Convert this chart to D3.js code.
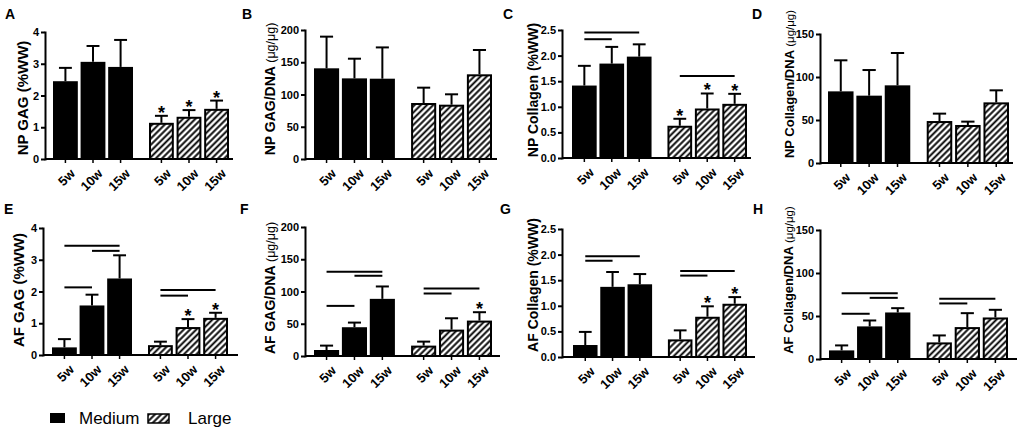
<!DOCTYPE html>
<html><head><meta charset="utf-8">
<script src="https://cdn.jsdelivr.net/npm/d3@7"></script>
<style>
body{margin:0;background:#fff}
svg{display:block;font-family:"Liberation Sans",Arial,sans-serif}
</style>
</head><body>
<svg id="c" width="1024" height="434"></svg>
<script>
// ---------------- DATA ----------------
const timepoints = ['5w','10w','15w'];
const groups = ['Medium','Large'];
const panelLetters = ['A','B','C','D','E','F','G','H'];
const yLabelMain = ['NP GAG (%WW)','NP GAG/DNA ','NP Collagen (%WW)','NP Collagen/DNA ',
                    'AF GAG (%WW)','AF GAG/DNA ','AF Collagen (%WW)','AF Collagen/DNA '];
const yLabelUnit = ['','(μg/μg)','','(μg/μg)','','(μg/μg)','','(μg/μg)'];
const yMax = [4,200,2.5,150,4,200,2.5,150];
const yTickStep = [1,50,0.5,50,1,50,0.5,50];
const yTickDecimals = [0,0,1,0,0,0,1,0];

// means: Medium 5w,10w,15w then Large 5w,10w,15w
const npGagMean        = [2.45, 3.06, 2.90, 1.14, 1.33, 1.58];
const npGagErr         = [0.42, 0.50, 0.85, 0.22, 0.21, 0.26];
const npGagDnaMean     = [140.6, 125.0, 124.5, 86.8, 84.2, 131.3];
const npGagDnaErr      = [49.1, 30.5, 48.5, 23.8, 16.1, 37.7];
const npCollagenMean   = [1.415, 1.844, 1.98, 0.63, 0.967, 1.058];
const npCollagenErr    = [0.385, 0.326, 0.24, 0.136, 0.293, 0.195];
const npColDnaMean     = [83.3, 78.3, 90.3, 48.8, 44.2, 70.5];
const npColDnaErr      = [36.1, 29.8, 37.6, 8.6, 3.9, 14.0];
const afGagMean        = [0.24, 1.56, 2.41, 0.31, 0.88, 1.17];
const afGagErr         = [0.26, 0.34, 0.73, 0.11, 0.25, 0.16];
const afGagDnaMean     = [9.3, 44.6, 88.6, 16.1, 40.9, 54.9];
const afGagDnaErr      = [6.8, 7.2, 19.2, 6.2, 17.6, 13.0];
const afCollagenMean   = [0.234, 1.37, 1.42, 0.344, 0.786, 1.04];
const afCollagenErr    = [0.256, 0.29, 0.20, 0.176, 0.204, 0.13];
const afColDnaMean     = [10.0, 37.9, 54.1, 19.3, 37.1, 48.3];
const afColDnaErr      = [5.8, 6.9, 5.0, 8.1, 16.2, 8.9];

// stars (* vs medium) — bar indices
const npGagStars = [3,4,5];
const npCollagenStars = [3,4,5];
const afGagStars = [4,5];
const afGagDnaStars = [5];
const afCollagenStars = [4,5];

// significance bars: [fromBar, toBar, yValue]
const npCollagenSig = [[0,2,2.45],[0,1,2.32],[3,5,1.60]];
const afGagSig      = [[0,2,3.44],[1,2,3.28],[0,1,2.13],[3,5,2.05],[3,4,1.87]];
const afGagDnaSig   = [[0,2,130.6],[1,2,124.4],[0,1,77.7],[3,5,104.7],[3,4,96.9]];
const afCollagenSig = [[0,2,1.97],[0,1,1.88],[3,5,1.68],[3,4,1.59]];
const afColDnaSig   = [[0,2,76.5],[1,2,71.1],[0,1,52.6],[3,5,70.0],[3,4,64.6]];

const means = [npGagMean,npGagDnaMean,npCollagenMean,npColDnaMean,afGagMean,afGagDnaMean,afCollagenMean,afColDnaMean];
const errs  = [npGagErr,npGagDnaErr,npCollagenErr,npColDnaErr,afGagErr,afGagDnaErr,afCollagenErr,afColDnaErr];
const stars = [npGagStars,[],npCollagenStars,[],afGagStars,afGagDnaStars,afCollagenStars,[]];
const sigs  = [[],[],npCollagenSig,[],afGagSig,afGagDnaSig,afCollagenSig,afColDnaSig];

// ---------------- LAYOUT (styles) ----------------
const layout = [
 {ax:45, ae:233, y0:159, yt:32, b0:53, b1:229, lx:5,   ly:19,  tx:22,  tcy:98,  fs:15},
 {ax:305,ae:497, y0:159, yt:30, b0:314,b1:492, lx:242, ly:19,  tx:269, tcy:89,  fs:14},
 {ax:562,ae:751, y0:158, yt:30, b0:572,b1:747, lx:503, ly:19,  tx:532, tcy:90,  fs:14},
 {ax:820,ae:1013,y0:163, yt:34, b0:828,b1:1009,lx:752, ly:19,  tx:788, tcy:84,  fs:13},
 {ax:43, ae:238, y0:355, yt:228,b0:52, b1:228, lx:4,   ly:214, tx:18,  tcy:290, fs:15},
 {ax:305,ae:500, y0:356, yt:227,b0:314,b1:492, lx:240, ly:214, tx:269, tcy:288, fs:14},
 {ax:562,ae:755, y0:357, yt:229,b0:573,b1:747, lx:500, ly:214, tx:532, tcy:285, fs:14},
 {ax:820,ae:1017,y0:359, yt:230,b0:829,b1:1008,lx:753, ly:214, tx:787, tcy:280, fs:13}
];

const svg = d3.select('#c');
const defs = svg.append('defs');
const P = 4.4;
const pat = defs.append('pattern').attr('id','hatch').attr('patternUnits','userSpaceOnUse')
  .attr('width',P).attr('height',P).attr('patternTransform','rotate(45)');
pat.append('rect').attr('width',P).attr('height',P).attr('fill','#fff');
pat.append('line').attr('x1',P/2).attr('x2',P/2).attr('y1',-1).attr('y2',P+1)
  .attr('stroke','#000').attr('stroke-width',1.9);

function drawPanel(i){
  const L = layout[i];
  const g = svg.append('g');
  const y = d3.scaleLinear().domain([0,yMax[i]]).range([L.y0, L.yt]);
  const gx = d3.scaleBand().domain(groups).range([L.b0, L.b1]).paddingInner(1/6).paddingOuter(0);
  const ix = d3.scaleBand().domain(timepoints).range([0, gx.bandwidth()]).paddingInner(0.1).paddingOuter(0);
  const rows = means[i].map((v,k)=>({k, grp:groups[Math.floor(k/3)], t:timepoints[k%3], v, e:errs[i][k]}));
  const bx = d => gx(d.grp)+ix(d.t);
  const cx = d => bx(d)+ix.bandwidth()/2;
  const bw = ix.bandwidth();

  // error bars (behind bars)
  g.selectAll('.err').data(rows).join('g').each(function(d){
    const s = d3.select(this);
    s.append('line').attr('x1',cx(d)).attr('x2',cx(d)).attr('y1',y(d.v)).attr('y2',y(d.v+d.e))
      .attr('stroke','#000').attr('stroke-width',2);
    s.append('line').attr('x1',cx(d)-bw*0.26).attr('x2',cx(d)+bw*0.26).attr('y1',y(d.v+d.e)).attr('y2',y(d.v+d.e))
      .attr('stroke','#000').attr('stroke-width',2);
  });

  // bars
  g.selectAll('.bar').data(rows).join('rect')
    .attr('x',d=>bx(d)+1).attr('width',bw-2)
    .attr('y',d=>y(d.v)+1).attr('height',d=>y(0)-y(d.v)-1)
    .attr('fill',d=>d.grp==='Medium'?'#000':'url(#hatch)')
    .attr('stroke','#000').attr('stroke-width',2);

  // y axis
  const ticks = d3.range(0, yMax[i]+1e-9, yTickStep[i]);
  const ya = g.append('g').attr('transform',`translate(${L.ax},0)`)
    .call(d3.axisLeft(y).tickValues(ticks).tickSize(4).tickSizeOuter(0).tickPadding(2)
      .tickFormat(d3.format(`.${yTickDecimals[i]}f`)));
  ya.select('.domain').attr('stroke-width',2).attr('stroke-linecap','square');
  ya.selectAll('.tick line').attr('stroke-width',2);
  ya.selectAll('.tick text').attr('font-size',11).attr('font-weight','bold')
    .attr('font-family','"Liberation Sans",Arial,sans-serif').attr('fill','#000');

  // x axis
  g.append('line').attr('x1',L.ax).attr('x2',L.ae).attr('y1',L.y0).attr('y2',L.y0)
    .attr('stroke','#000').attr('stroke-width',2);
  g.selectAll('.xt').data(rows).join('line')
    .attr('x1',cx).attr('x2',cx).attr('y1',L.y0).attr('y2',L.y0+4)
    .attr('stroke','#000').attr('stroke-width',1.5);
  g.selectAll('.xl').data(rows).join('text')
    .attr('transform',d=>`translate(${cx(d)+4},${L.y0+9}) rotate(-45)`)
    .attr('text-anchor','end').attr('dy','0.7em')
    .attr('font-size',13).attr('font-weight','bold').text(d=>d.t);

  // stars
  g.selectAll('.star').data(rows.filter(d=>stars[i].includes(d.k))).join('text')
    .attr('x',cx).attr('y',d=>y(d.v+d.e)+3).attr('text-anchor','middle')
    .attr('font-size',18).attr('font-weight','bold').text('*');

  // significance lines
  g.selectAll('.sig').data(sigs[i]).join('line')
    .attr('x1',d=>cx(rows[d[0]])).attr('x2',d=>cx(rows[d[1]]))
    .attr('y1',d=>y(d[2])).attr('y2',d=>y(d[2]))
    .attr('stroke','#000').attr('stroke-width',2);

  // panel letter
  g.append('text').attr('x',L.lx).attr('y',L.ly).attr('font-size',14).attr('font-weight','bold').text(panelLetters[i]);

  // y label
  const t = g.append('text').attr('transform',`translate(${L.tx},${L.tcy}) rotate(-90)`)
    .attr('text-anchor','middle').attr('dy','0.35em');
  t.append('tspan').attr('font-size',L.fs).attr('font-weight','bold').text(yLabelMain[i]);
  if (yLabelUnit[i]) t.append('tspan').attr('font-size',L.fs-1.5).attr('font-weight','normal').text(yLabelUnit[i]);
}

for (let i=0;i<8;i++) drawPanel(i);

// legend
const leg = svg.append('g');
leg.append('rect').attr('x',50).attr('y',413).attr('width',15).attr('height',10).attr('fill','#000');
leg.append('text').attr('x',79).attr('y',424).attr('font-size',17).text(groups[0]);
leg.append('rect').attr('x',148).attr('y',414).attr('width',21).attr('height',9).attr('fill','url(#hatch)')
  .attr('stroke','#000').attr('stroke-width',1.5);
leg.append('text').attr('x',188).attr('y',424).attr('font-size',17).text(groups[1]);
</script>
</body></html>
